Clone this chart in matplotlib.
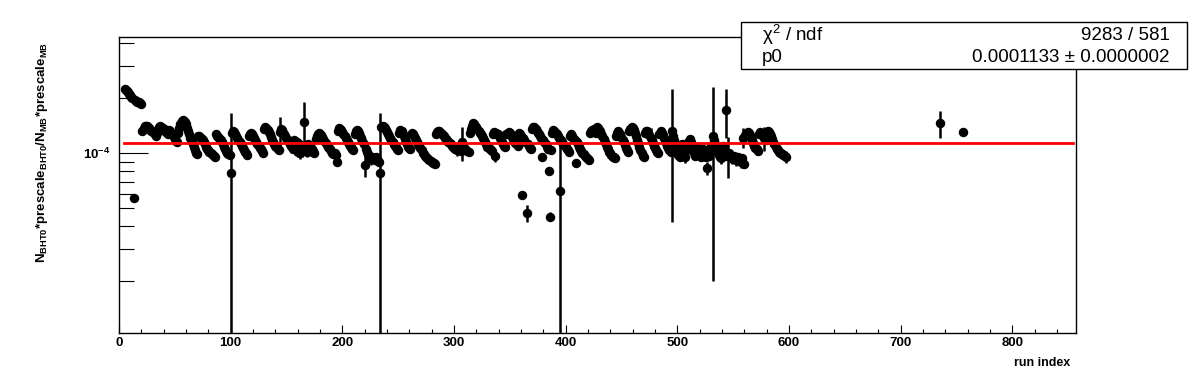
import numpy as np
import matplotlib.pyplot as plt
from matplotlib.patches import Rectangle
from matplotlib.ticker import LogLocator, FixedLocator, FixedFormatter, NullFormatter, MultipleLocator

plt.rcParams['font.family'] = ['Liberation Sans', 'DejaVu Sans']
plt.rcParams['mathtext.fontset'] = 'custom'
plt.rcParams['mathtext.bf'] = 'Liberation Sans:bold'
plt.rcParams['mathtext.rm'] = 'Liberation Sans'

# ratio per run, in units of 1e-4, grouped by first run index of each block
blocks = [
    (5, [2.25, 2.23, 2.20, 2.16, 2.12, 2.08, 2.04, 2.00, 0.57, 1.96, 1.94, 1.92, 1.91, 1.90, 1.88, 1.86]),
    (21, [1.33, 1.38, 1.41, 1.42, 1.41, 1.39, 1.37, 1.35, 1.33, 1.31, 1.29, 1.27, 1.25]),
    (34, [1.30, 1.36, 1.40, 1.41, 1.40, 1.38, 1.36, 1.33, 1.31, 1.29, 1.27, 1.34, 1.32, 1.29, 1.26, 1.23, 1.20, 1.17, 1.15]),
    (53, [1.30, 1.38, 1.45, 1.50, 1.52, 1.51, 1.48, 1.44, 1.38, 1.32, 1.27, 1.22, 1.17, 1.12, 1.08, 1.04, 1.01, 0.99]),
    (71, [1.25, 1.24, 1.22, 1.20, 1.18, 1.15, 1.12, 1.09, 1.06, 1.04, 1.02, 1.00, 0.99, 0.98, 0.97, 0.96]),
    (87, [1.27, 1.25, 1.23, 1.21, 1.18, 1.15, 1.12, 1.09, 1.06, 1.03, 1.01, 0.99, 0.98]),
    (100, [0.78]),
    (101, [1.30, 1.33, 1.31, 1.28, 1.25, 1.22, 1.19, 1.16, 1.13, 1.10, 1.07, 1.04, 1.02, 1.00, 0.98]),
    (116, [1.24, 1.28, 1.30, 1.28, 1.25, 1.22, 1.19, 1.16, 1.13, 1.10, 1.07, 1.05, 1.03, 1.01]),
    (130, [1.36, 1.39, 1.38, 1.35, 1.31, 1.27, 1.23, 1.19, 1.16, 1.13, 1.10, 1.08, 1.06, 1.04]),
    (144, [1.31, 1.36, 1.34, 1.30, 1.27, 1.24, 1.21, 1.18, 1.15, 1.12, 1.10, 1.08, 1.06]),
    (157, [1.18, 1.05, 1.15, 1.02, 1.12, 1.00, 1.10, 1.03, 1.08, 1.49, 1.06, 1.02, 1.12, 1.04, 1.10, 1.07, 1.05, 1.03, 1.01]),
    (176, [1.20, 1.24, 1.27, 1.29, 1.28, 1.26, 1.23, 1.20, 1.17, 1.14, 1.11, 1.09, 1.07, 1.05, 1.03, 1.01, 0.99, 1.00, 0.98, 0.90]),
    (196, [1.33, 1.37, 1.36, 1.34, 1.31, 1.28, 1.25, 1.22, 1.19, 1.16, 1.13, 1.10, 1.08, 1.06, 1.04]),
    (211, [1.28, 1.33, 1.35, 1.33, 1.29, 1.25, 1.21, 1.17, 1.13, 0.86]),
    (221, [1.05, 1.02, 0.99, 0.97, 0.95, 0.93, 0.96, 0.94, 0.92, 0.95, 0.93, 0.91, 0.90, 0.78]),
    (235, [1.40, 1.42, 1.40, 1.37, 1.34, 1.31, 1.28, 1.25, 1.22, 1.19, 1.16, 1.13, 1.10, 1.08, 1.06, 1.04]),
    (251, [1.30, 1.34, 1.32, 1.28, 1.24, 1.20, 1.16, 1.12, 1.09, 1.07, 1.05]),
    (262, [1.30, 1.28, 1.25, 1.22, 1.19, 1.16, 1.13, 1.10, 1.07, 1.04, 1.01, 0.99, 0.97, 0.95, 0.94, 0.93,
           0.92, 0.91, 0.90, 0.89, 0.88, 0.87]),
    (284, [1.27, 1.31, 1.33, 1.32, 1.30, 1.28, 1.26, 1.24, 1.22, 1.20, 1.18, 1.16, 1.14, 1.12, 1.10, 1.08,
           1.07, 1.06, 1.05, 1.04, 1.05, 1.04, 1.03, 1.15]),
    (308, [1.10, 1.07, 1.05, 1.04, 1.03, 1.02, 1.30, 1.36, 1.42, 1.46, 1.45]),
    (319, [1.42, 1.39, 1.36, 1.33, 1.30, 1.27, 1.24, 1.21, 1.18, 1.15, 1.12, 1.09, 1.07, 1.05, 1.04, 1.03]),
    (335, [1.28, 1.31, 0.97, 1.30, 1.28, 1.25, 1.22, 1.19, 1.16, 1.13, 1.10, 1.08, 1.27, 1.30, 1.31, 1.29,
           1.26, 1.23, 1.20, 1.17, 1.14, 1.12, 1.10]),
    (358, [1.30, 1.28, 1.25, 0.59, 1.22, 1.19, 1.16, 0.47, 1.13, 1.10, 1.07, 1.05, 1.36, 1.40, 1.39, 1.36, 1.33, 1.30]),
    (376, [1.27, 1.24, 1.21, 0.96, 1.18, 1.15, 1.12, 1.09, 1.06, 0.80, 0.45, 1.04, 1.30, 1.34, 1.33, 1.30]),
    (392, [1.27, 1.24, 1.21, 0.62, 1.18, 1.15, 1.12, 1.10, 1.08, 1.06, 1.04, 1.02, 1.25, 1.27, 1.24, 1.21,
           1.18, 0.89, 1.15]),
    (411, [1.12, 1.09, 1.06, 1.03, 1.01, 0.99, 0.97, 0.95, 0.94, 0.93, 0.92, 1.30, 1.33, 1.35, 1.36, 1.34,
           1.30, 1.40, 1.38, 1.35, 1.32]),
    (432, [1.28, 1.24, 1.20, 1.16, 1.12, 1.08, 1.05, 1.02, 1.00, 0.98, 0.96, 0.95, 0.94, 1.25, 1.30, 1.33,
           1.30, 1.27, 1.23]),
    (451, [1.19, 1.15, 1.11, 1.07, 1.04, 1.02, 1.32, 1.36, 1.39, 1.38, 1.34, 1.29, 1.24, 1.19, 1.14, 1.09,
           1.04, 1.00, 0.97, 0.95]),
    (471, [1.30, 1.33, 1.32, 1.29, 1.26, 1.22, 1.18, 1.14, 1.10, 1.07, 1.04, 1.02, 1.00, 1.28, 1.32, 1.30,
           1.26, 1.22, 1.18, 1.14, 1.10, 1.07, 1.04, 1.02, 1.33]),
    (496, [1.25, 1.18, 1.12, 1.05, 1.02, 0.98, 0.95, 1.08, 1.12, 1.06, 0.99, 0.95, 1.04, 1.10, 1.15, 1.20,
           1.16, 1.10, 1.05, 1.00, 0.97, 1.03, 1.08, 1.02, 0.98, 0.96, 1.00, 1.05, 1.02, 0.98, 0.95, 0.83,
           0.97, 1.02, 1.10, 1.05, 1.25]),
    (533, [1.18, 1.12, 1.06, 1.02, 0.98, 0.96, 0.94, 1.05, 1.10, 1.02, 0.97, 1.73, 0.98, 1.00, 0.98, 0.96,
           0.94, 0.93, 0.97, 0.95, 0.92, 0.96, 0.93, 0.91, 0.90, 0.94, 1.22, 0.87]),
    (561, [1.26, 1.30, 1.31, 1.29, 1.26, 1.22, 1.18, 1.14, 1.10, 1.07, 1.05, 1.03, 1.28, 1.31, 1.30, 1.27,
           1.24, 1.21, 1.18, 1.30, 1.32, 1.31, 1.28, 1.24, 1.20, 1.16, 1.12, 1.09, 1.06, 1.04, 1.02, 1.01,
           1.00, 0.99, 0.98, 0.97, 0.96]),
    (735, [1.46]),
    (756, [1.31]),
]

# errors (1e-4 units); most points are small
default_err = 0.025
big_err = {100: 0.88, 144: 0.27, 166: 0.42, 220: 0.12, 234: 0.88, 244: 0.10, 307: 0.24,
           365: 0.05, 395: 0.55, 476: 0.15, 495: 0.91, 532: 1.05, 544: 0.52, 545: 0.25,
           559: 0.15, 578: 0.18, 735: 0.25}
mid_err_runs = [158, 160, 162, 164, 168, 170, 208, 226, 260, 290, 303, 337, 437, 465,
                500, 507, 515, 520, 527, 539, 549, 553, 557, 585, 597]

p0 = 1.133e-4
fit_range = [4.5, 854]

run = []
ratio = []
for start, vals in blocks:
    for k, v in enumerate(vals):
        run.append(start + k)
        ratio.append(v)
run = np.array(run)
ratio = np.array(ratio) * 1e-4
err = np.full(len(run), default_err)
for r in mid_err_runs:
    err[run == r] = 0.07
for r, e in big_err.items():
    err[run == r] = e
err = err * 1e-4
lo = np.minimum(err, ratio - 1e-7)

fig = plt.figure(figsize=(11.96, 3.72), dpi=100)
ax = fig.add_axes([0.0995, 0.1048, 0.8004, 0.7957])

ax.errorbar(run, ratio, yerr=[lo, err], fmt='o', color='black', ms=5.8,
            elinewidth=1.8, capsize=0, zorder=2)
ax.plot(fit_range, [p0, p0], color='red', lw=2.0, zorder=3)

ax.set_yscale('log')
ax.set_xlim(0, 857.3)
ax.set_ylim(1.04e-5, 4.33e-4)

ax.yaxis.set_major_locator(FixedLocator([1e-4]))
ax.yaxis.set_major_formatter(FixedFormatter([r'$\mathbf{10^{-4}}$']))
ax.yaxis.set_minor_locator(LogLocator(base=10, subs=np.arange(2, 10)))
ax.yaxis.set_minor_formatter(NullFormatter())
ax.xaxis.set_major_locator(MultipleLocator(100))
ax.xaxis.set_minor_locator(MultipleLocator(20))

ax.tick_params(axis='y', which='major', direction='in', length=21, width=0.8, pad=6, labelsize=9.5)
ax.tick_params(axis='y', which='minor', direction='in', length=11, width=0.8)
ax.tick_params(axis='x', which='major', direction='in', length=6, width=0.8, pad=3, labelsize=9.5)
ax.tick_params(axis='x', which='minor', direction='in', length=3, width=0.8)
for lab in ax.get_xticklabels():
    lab.set_fontweight('bold')
for s in ax.spines.values():
    s.set_linewidth(1.0)

fig.text(0.035, 0.589,
         r'N$_{\mathbf{BHT0}}$*prescale$_{\mathbf{BHT0}}$/N$_{\mathbf{MB}}$*prescale$_{\mathbf{MB}}$',
         rotation=90, ha='center', va='center', fontsize=9.5, fontweight='bold')
fig.text(0.8946, 0.024, 'run index', ha='right', va='center', fontsize=9, fontweight='bold')

# stats box
bx0, bx1, by0, by1 = 741 / 1196, 1187 / 1196, 1 - 69 / 372, 1 - 22 / 372
fig.patches.append(Rectangle((bx0, by0), bx1 - bx0, by1 - by0, transform=fig.transFigure,
                             facecolor='white', edgecolor='black', lw=1.0, zorder=5))
fig.text(762 / 1196, 1 - 35 / 372, 'χ$^2$ / ndf', ha='left', va='center', fontsize=13.5, zorder=6)
fig.text(1170 / 1196, 1 - 35 / 372, '9283 / 581', ha='right', va='center', fontsize=13.5, zorder=6)
fig.text(762 / 1196, 1 - 57 / 372, 'p0', ha='left', va='center', fontsize=13.5, zorder=6)
fig.text(1170 / 1196, 1 - 57 / 372, '0.0001133 ± 0.0000002', ha='right', va='center', fontsize=13.5, zorder=6)

fig.savefig('out.png', dpi=100, facecolor='white')
